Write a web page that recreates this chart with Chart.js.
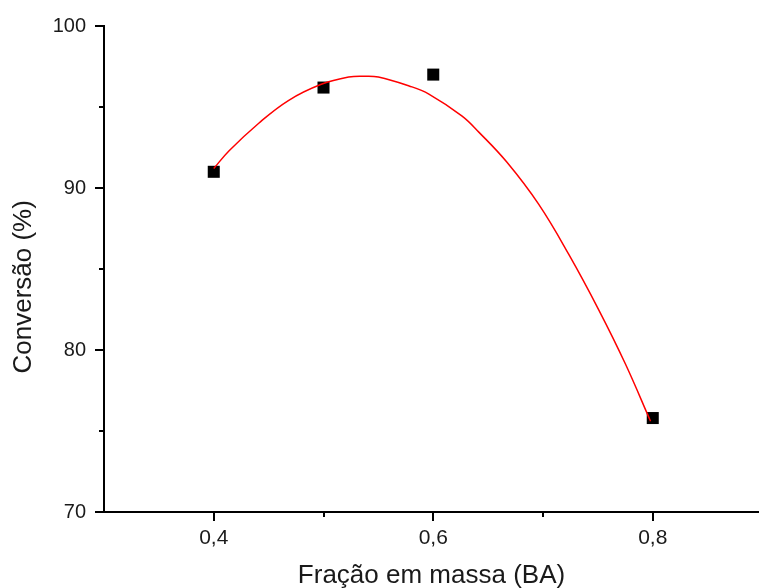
<!DOCTYPE html>
<html>
<head>
<meta charset="utf-8">
<script src="https://cdn.jsdelivr.net/npm/chart.js@4.4.1/dist/chart.umd.min.js"></script>
<style>
  html, body { margin: 0; padding: 0; background: #fff; }
  #wrap { width: 759px; height: 588px; }
</style>
</head>
<body>
<div id="wrap"><canvas id="chart" width="759" height="588"></canvas></div>
<script>
// ============================================================================
// Data
// ============================================================================

// Measured points (black squares)
const fractionBA = [0.4, 0.5, 0.6, 0.8];
const conversion = [91.0, 96.2, 97.0, 75.8];

// Red fitted curve
const fitX = [0.400, 0.414, 0.441, 0.468, 0.498, 0.523, 0.537, 0.550, 0.578,
              0.596, 0.626, 0.6415, 0.667, 0.696, 0.7235, 0.751, 0.775, 0.798];
const fitY = [91.2, 92.3, 94.0, 95.4, 96.4, 96.85, 96.9, 96.85, 96.3,
              95.8, 94.45, 93.45, 91.6, 89.0, 85.9, 82.45, 79.15, 75.6];

// Axis ticks (major ones carry a label)
const xTicks = [0.4, 0.5, 0.6, 0.7, 0.8];
const xLabels = ['0,4', '', '0,6', '', '0,8'];
const yTicks = [70, 75, 80, 85, 90, 95, 100];
const yLabels = ['70', '', '80', '', '90', '', '100'];

const yTitle = 'Conversão (%)';
const xTitle = 'Fração em massa (BA)';

// ============================================================================
// Helpers
// ============================================================================

const TEXT = '#1a1a1a';
const FONT = "'Liberation Sans', Arial, sans-serif";

/**
 * Draw outward tick marks (long for labelled ticks) and the y axis title
 */
const axisExtras = {
  id: 'axisExtras',
  afterDraw(chart) {
    const ctx = chart.ctx;
    const xs = chart.scales.x;
    const ys = chart.scales.y;
    const area = chart.chartArea;
    ctx.save();
    ctx.strokeStyle = '#000';
    ctx.lineWidth = 2;
    xTicks.forEach((v, i) => {
      const px = Math.round(xs.getPixelForValue(v));
      const len = xLabels[i] ? 9 : 5;
      ctx.beginPath();
      ctx.moveTo(px, area.bottom);
      ctx.lineTo(px, area.bottom + len);
      ctx.stroke();
    });
    yTicks.forEach((v, i) => {
      const py = Math.round(ys.getPixelForValue(v));
      const len = yLabels[i] ? 9 : 5;
      ctx.beginPath();
      ctx.moveTo(area.left, py);
      ctx.lineTo(area.left - len, py);
      ctx.stroke();
    });

    // y title sits a little below the middle of the axis, as in the source
    ctx.translate(24, ys.getPixelForValue(83.9));
    ctx.rotate(-Math.PI / 2);
    ctx.fillStyle = TEXT;
    ctx.font = '26px ' + FONT;
    ctx.textAlign = 'center';
    ctx.textBaseline = 'middle';
    ctx.fillText(yTitle, 0, 0);
    ctx.restore();
  }
};

// ============================================================================
// Chart
// ============================================================================

new Chart(document.getElementById('chart'), {
  type: 'scatter',
  data: {
    datasets: [
      {
        type: 'line',
        data: fitX.map((x, i) => ({ x: x, y: fitY[i] })),
        borderColor: '#ff0000',
        borderWidth: 1.5,
        pointRadius: 0,
        tension: 0.4,
        fill: false,
        order: 1
      },
      {
        data: fractionBA.map((x, i) => ({ x: x, y: conversion[i] })),
        pointStyle: 'rect',
        pointRadius: 8.5,
        pointBackgroundColor: '#000',
        pointBorderWidth: 0,
        order: 2
      }
    ]
  },
  options: {
    responsive: false,
    animation: false,
    layout: {
      autoPadding: false,
      padding: { top: 26, right: 0, left: 0, bottom: 0 }
    },
    plugins: {
      legend: { display: false },
      tooltip: { enabled: false }
    },
    scales: {
      x: {
        type: 'linear',
        min: 0.3,
        max: 0.8968,
        afterBuildTicks: s => { s.ticks = xTicks.map(v => ({ value: v })); },
        afterFit: s => {
          s.height = 76;
          s.paddingLeft = 0;
          s.paddingRight = 0;
        },
        grid: { display: false, drawTicks: false },
        border: { display: true, color: '#000', width: 2 },
        ticks: {
          padding: 14,
          color: TEXT,
          font: { family: FONT, size: 21 },
          maxRotation: 0,
          autoSkip: false,
          callback: (v, i) => xLabels[i]
        },
        title: {
          display: true,
          text: xTitle,
          color: TEXT,
          font: { family: FONT, size: 26 },
          padding: { top: 0, bottom: -3 }
        }
      },
      y: {
        type: 'linear',
        min: 70,
        max: 100,
        afterBuildTicks: s => { s.ticks = yTicks.map(v => ({ value: v })); },
        afterFit: s => {
          s.width = 104;
          s.paddingTop = 0;
          s.paddingBottom = 0;
        },
        grid: { display: false, drawTicks: false },
        border: { display: true, color: '#000', width: 2 },
        ticks: {
          padding: 18,
          color: TEXT,
          font: { family: FONT, size: 20 },
          autoSkip: false,
          callback: (v, i) => yLabels[i]
        },
        title: { display: false }
      }
    }
  },
  plugins: [axisExtras]
});
</script>
</body>
</html>
